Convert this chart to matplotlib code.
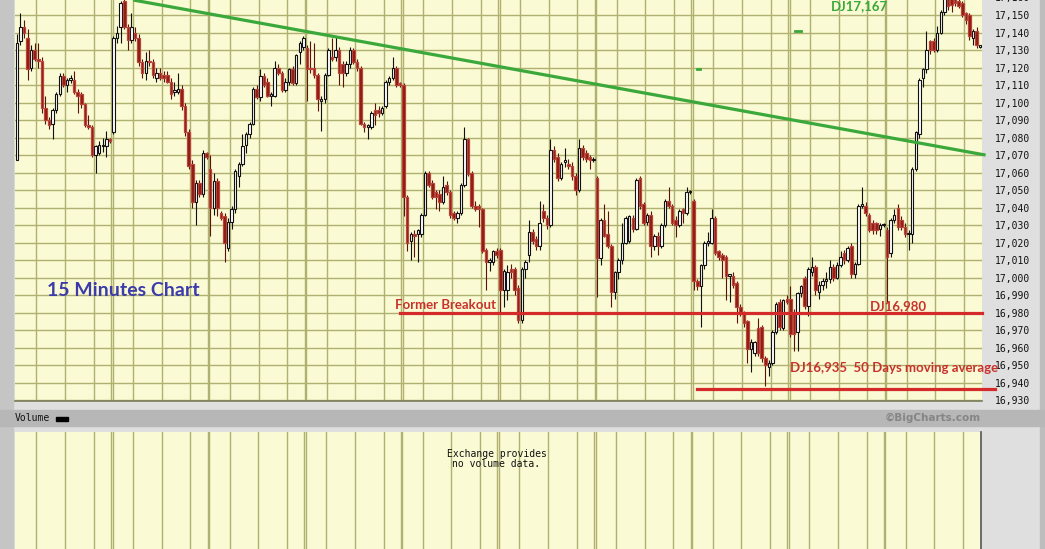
#!/usr/bin/env python3
import matplotlib
matplotlib.use('Agg')
import matplotlib.pyplot as plt
from matplotlib.patches import Rectangle

# 15 minute bars, 27 per trading day, 10 days (one line per day)
opens = [
    17067, 17135, 17143, 17137, 17120, 17130, 17125, 17124, 17097, 17090, 17088, 17096, 17105, 17115, 17110, 17113, 17113, 17106, 17105, 17099, 17087, 17086, 17070, 17071, 17075, 17075, 17079,
    17083, 17137, 17143, 17158, 17143, 17136, 17140, 17137, 17123, 17117, 17124, 17123, 17114, 17117, 17116, 17116, 17112, 17106, 17106, 17108, 17098, 17083, 17065, 17043, 17054, 17048, 17071,
    17062, 17040, 17055, 17037, 17035, 17017, 17032, 17039, 17058, 17065, 17076, 17082, 17088, 17108, 17103, 17115, 17112, 17104, 17104, 17120, 17117, 17107, 17112, 17119, 17111, 17129, 17132,
    17131, 17120, 17120, 17116, 17101, 17102, 17116, 17126, 17126, 17130, 17122, 17117, 17122, 17130, 17123, 17120, 17088, 17086, 17086, 17096, 17096, 17094, 17098, 17112, 17114, 17120, 17111,
    17110, 17046, 17021, 17025, 17025, 17025, 17036, 17060, 17054, 17049, 17048, 17043, 17053, 17049, 17037, 17034, 17037, 17053, 17079, 17060, 17041, 17041, 17039, 17016, 17009, 17009, 17015,
    17016, 16993, 16993, 17005, 17005, 16994, 16976, 17005, 17013, 17026, 17022, 17018, 17038, 17034, 17030, 17073, 17069, 17057, 17066, 17065, 17064, 17058, 17050, 17074, 17071, 17069, 17067,
    17057, 17011, 17033, 17025, 17018, 16992, 17003, 17010, 17020, 17021, 17034, 17028, 17057, 17042, 17032, 17036, 17018, 17024, 17018, 17030, 17044, 17041, 17033, 17030, 17039, 17037, 17049,
    17044, 16998, 16995, 17007, 17020, 17020, 17034, 17015, 17013, 17012, 17001, 17001, 16997, 16983, 16980, 16975, 16959, 16957, 16971, 16972, 16954, 16949, 16951, 16969, 16986, 16971, 16988,
    16988, 16980, 16969, 16991, 17000, 16984, 17003, 17006, 16992, 16996, 16998, 16999, 17006, 17000, 17007, 17014, 17010, 17018, 17002, 17008, 17041, 17041, 17036, 17031, 17031, 17028, 17030,
    17027, 17014, 17033, 17040, 17033, 17029, 17025, 17025, 17062, 17082, 17114, 17119, 17135, 17135, 17130, 17140, 17152, 17163, 17162, 17160, 17158, 17157, 17151, 17150, 17137, 17141, 17132,
]
highs = [
    17139, 17151, 17147, 17142, 17133, 17134, 17134, 17126, 17104, 17092, 17097, 17106, 17117, 17117, 17114, 17116, 17118, 17108, 17106, 17100, 17093, 17087, 17076, 17078, 17080, 17084, 17080,
    17138, 17144, 17158, 17159, 17145, 17151, 17143, 17139, 17125, 17129, 17130, 17125, 17120, 17120, 17118, 17118, 17114, 17112, 17117, 17110, 17100, 17085, 17067, 17056, 17056, 17073, 17072,
    17070, 17060, 17057, 17038, 17037, 17034, 17041, 17062, 17066, 17082, 17083, 17089, 17109, 17110, 17119, 17117, 17114, 17106, 17124, 17122, 17118, 17114, 17120, 17121, 17128, 17135, 17138,
    17133, 17135, 17134, 17117, 17104, 17117, 17131, 17137, 17138, 17132, 17124, 17124, 17132, 17131, 17125, 17121, 17089, 17088, 17095, 17100, 17098, 17098, 17113, 17115, 17126, 17121, 17112,
    17111, 17047, 17026, 17027, 17028, 17037, 17061, 17061, 17056, 17050, 17050, 17058, 17055, 17050, 17038, 17038, 17054, 17086, 17080, 17061, 17044, 17042, 17040, 17017, 17011, 17016, 17017,
    17017, 17005, 17007, 17008, 17006, 16996, 17006, 17010, 17033, 17028, 17024, 17044, 17042, 17036, 17079, 17075, 17071, 17066, 17074, 17068, 17066, 17060, 17079, 17076, 17073, 17070, 17069,
    17058, 17034, 17042, 17038, 17019, 17004, 17011, 17031, 17035, 17036, 17036, 17057, 17058, 17043, 17037, 17038, 17025, 17026, 17031, 17045, 17052, 17042, 17035, 17039, 17040, 17052, 17050,
    17045, 16999, 17008, 17021, 17026, 17039, 17035, 17016, 17014, 17013, 17002, 17003, 16998, 16985, 16981, 16976, 16965, 16964, 16977, 16973, 16955, 16953, 16970, 16986, 16988, 16988, 16990,
    16995, 16982, 16992, 16996, 17001, 17006, 17012, 17007, 16998, 17000, 17003, 17010, 17008, 17009, 17015, 17016, 17018, 17020, 17009, 17042, 17052, 17043, 17037, 17033, 17032, 17031, 17031,
    17029, 17034, 17039, 17042, 17035, 17031, 17027, 17063, 17084, 17114, 17120, 17141, 17136, 17137, 17144, 17153, 17167, 17166, 17165, 17164, 17160, 17158, 17152, 17151, 17142, 17143, 17133,
]
lows = [
    17067, 17133, 17137, 17113, 17118, 17124, 17120, 17094, 17088, 17085, 17079, 17094, 17104, 17109, 17106, 17111, 17105, 17094, 17097, 17086, 17085, 17069, 17060, 17070, 17072, 17069, 17077,
    17082, 17134, 17134, 17142, 17130, 17134, 17135, 17121, 17114, 17113, 17121, 17114, 17112, 17113, 17112, 17111, 17102, 17104, 17105, 17096, 17081, 17062, 17040, 17030, 17046, 17046, 17068,
    17024, 17036, 17035, 17033, 17009, 17015, 17028, 17037, 17052, 17064, 17071, 17080, 17087, 17102, 17101, 17109, 17103, 17098, 17103, 17116, 17106, 17106, 17110, 17110, 17110, 17122, 17130,
    17101, 17117, 17114, 17095, 17084, 17100, 17115, 17124, 17124, 17110, 17109, 17115, 17120, 17122, 17118, 17087, 17083, 17079, 17085, 17087, 17092, 17093, 17097, 17110, 17113, 17109, 17109,
    17035, 17015, 17010, 17012, 17009, 17023, 17035, 17052, 17045, 17039, 17038, 17042, 17047, 17034, 17033, 17031, 17036, 17052, 17058, 17040, 17038, 17029, 17014, 16993, 17004, 17007, 17011,
    16980, 16983, 16987, 17000, 16990, 16974, 16974, 17000, 17009, 17019, 17016, 17016, 17032, 17028, 17029, 17066, 17055, 17056, 17063, 17062, 17056, 17047, 17049, 17067, 17066, 17062, 17066,
    16989, 17007, 17023, 17017, 16983, 16988, 16999, 17008, 17019, 17020, 17026, 17027, 17039, 17030, 17030, 17012, 17016, 17013, 17017, 17029, 17040, 17030, 17023, 17029, 17031, 17036, 17048,
    16993, 16993, 16972, 17005, 17018, 17019, 17013, 17010, 17000, 16987, 16986, 16994, 16974, 16978, 16972, 16951, 16946, 16955, 16955, 16952, 16938, 16944, 16950, 16968, 16970, 16970, 16985,
    16966, 16958, 16958, 16989, 16982, 16978, 17001, 16990, 16988, 16993, 16994, 16997, 16998, 16999, 17006, 17008, 17009, 17000, 17000, 17007, 17040, 17035, 17026, 17025, 17025, 17024, 17029,
    16986, 17012, 17031, 17027, 17027, 17023, 17016, 17020, 17061, 17080, 17109, 17117, 17128, 17129, 17129, 17139, 17150, 17153, 17152, 17155, 17154, 17149, 17145, 17136, 17133, 17131, 17131,
]
closes = [
    17134, 17143, 17140, 17119, 17130, 17125, 17124, 17097, 17090, 17087, 17096, 17105, 17115, 17110, 17113, 17114, 17106, 17104, 17099, 17087, 17086, 17070, 17075, 17076, 17076, 17079, 17078,
    17137, 17140, 17157, 17143, 17136, 17143, 17137, 17123, 17117, 17124, 17123, 17116, 17117, 17114, 17114, 17112, 17105, 17107, 17108, 17098, 17083, 17064, 17043, 17054, 17048, 17071, 17069,
    17040, 17055, 17040, 17034, 17020, 17032, 17039, 17061, 17065, 17075, 17082, 17088, 17108, 17103, 17115, 17110, 17104, 17104, 17120, 17117, 17107, 17112, 17119, 17111, 17127, 17134, 17137,
    17119, 17119, 17116, 17102, 17102, 17116, 17130, 17125, 17130, 17117, 17117, 17122, 17130, 17123, 17120, 17088, 17086, 17087, 17094, 17093, 17094, 17097, 17112, 17114, 17120, 17110, 17110,
    17046, 17020, 17025, 17024, 17027, 17036, 17060, 17053, 17046, 17046, 17043, 17052, 17049, 17036, 17034, 17037, 17053, 17079, 17059, 17041, 17039, 17039, 17015, 17009, 17010, 17015, 17013,
    16993, 17004, 17003, 17003, 16993, 16976, 17005, 17009, 17026, 17021, 17018, 17031, 17034, 17030, 17073, 17068, 17057, 17065, 17067, 17064, 17058, 17050, 17074, 17069, 17068, 17067, 17068,
    17011, 17033, 17024, 17018, 16992, 17003, 17010, 17020, 17034, 17035, 17028, 17056, 17041, 17031, 17036, 17018, 17024, 17018, 17030, 17044, 17041, 17031, 17030, 17038, 17037, 17049, 17049,
    16998, 16995, 17007, 17020, 17021, 17034, 17014, 17012, 17010, 17001, 17002, 16996, 16983, 16980, 16974, 16959, 16963, 16963, 16957, 16954, 16950, 16951, 16969, 16985, 16972, 16987, 16986,
    16968, 16968, 16991, 16995, 16984, 17005, 17006, 16993, 16996, 16998, 16999, 17006, 17000, 17007, 17012, 17010, 17017, 17002, 17008, 17041, 17042, 17037, 17027, 17027, 17027, 17030, 17030,
    17012, 17033, 17036, 17029, 17029, 17025, 17025, 17062, 17083, 17113, 17119, 17130, 17130, 17130, 17140, 17152, 17162, 17155, 17156, 17157, 17155, 17150, 17147, 17138, 17141, 17133, 17132,
]

price_ticks = list(range(16930, 17161, 10))

# drawn-on annotations (bar index, price)
trend_x = [33, 271]
trend_y = [17158.6, 17070]
breakout_level = 16980
breakout_x = [107.5, 270]
ma_level = 16936.3
ma_x = [190.5, 273.5]
green_marks = [(217.8, 219.6, 17141), (190.5, 191.2, 17119)]

BARS_PER_DAY = 27
N_DAYS = 10
W, H = 1045, 549

UP_EDGE = '#111111'
DOWN_FILL = '#8c1a10'
DOWN_EDGE = '#b8443a'
BG = '#fafad4'
GRID = '#b0b070'


def fx(px):
    return px / W


def fy(py):
    return 1 - py / H


fig = plt.figure(figsize=(W / 100, H / 100), dpi=100)
fig.patch.set_facecolor('#dfdfdf')

# gray strips of the page
fig.add_artist(Rectangle((0, 0), fx(13), 1, transform=fig.transFigure, color='#c5c5c5', zorder=0))
fig.add_artist(Rectangle((fx(1040), 0), fx(5), 1, transform=fig.transFigure, color='#bdbdbd', zorder=0))
fig.add_artist(Rectangle((0, fy(426)), 1, (426 - 410) / H, transform=fig.transFigure,
                         color='#b7b7b7', zorder=0))

ax = fig.add_axes([fx(15), fy(401), fx(982 - 15), 401 / H])
ax.set_facecolor(BG)
n = len(closes)
ax.set_xlim(0, BARS_PER_DAY * N_DAYS)
ax.set_ylim(16929.5, 17158.6)


def vgrid(a):
    for d in range(N_DAYS + 1):
        base = d * BARS_PER_DAY
        for off in (6, 14, 22):
            if base + off < BARS_PER_DAY * N_DAYS:
                a.axvline(base + off, color=GRID, lw=1.0, zorder=1)
        if 0 < d < N_DAYS:
            a.axvline(base - 0.15, color=GRID, lw=1.0, zorder=1)
            a.axvline(base + 0.3, color=GRID, lw=1.0, zorder=1)


vgrid(ax)
for p in price_ticks:
    ax.axhline(p, color=GRID, lw=1.0, zorder=1)

# candles
xs = [i + 0.5 for i in range(n)]
up = [c >= o for o, c in zip(opens, closes)]
ax.vlines([x for x, u in zip(xs, up) if u], [l for l, u in zip(lows, up) if u],
          [h for h, u in zip(highs, up) if u], color=UP_EDGE, lw=0.8, zorder=2)
ax.vlines([x for x, u in zip(xs, up) if not u], [l for l, u in zip(lows, up) if not u],
          [h for h, u in zip(highs, up) if not u], color='#5a120c', lw=0.8, zorder=2)
bottoms = [min(o, c) for o, c in zip(opens, closes)]
heights = [max(abs(c - o), 0.7) for o, c in zip(opens, closes)]
ax.bar([x for x, u in zip(xs, up) if u], [h for h, u in zip(heights, up) if u],
       bottom=[b for b, u in zip(bottoms, up) if u], width=0.68,
       facecolor='white', edgecolor=UP_EDGE, lw=0.8, zorder=3)
ax.bar([x for x, u in zip(xs, up) if not u], [h for h, u in zip(heights, up) if not u],
       bottom=[b for b, u in zip(bottoms, up) if not u], width=0.72,
       facecolor=DOWN_FILL, edgecolor=DOWN_EDGE, lw=0.9, zorder=3)

# annotations
ax.plot(trend_x, trend_y, color='#3aa83a', lw=2.3, solid_capstyle='butt', zorder=4, clip_on=False)
ax.plot(breakout_x, [breakout_level] * 2, color='#d42a2a', lw=2.3, zorder=4, clip_on=False)
ax.plot(ma_x, [ma_level] * 2, color='#d42a2a', lw=2.3, zorder=4, clip_on=False)
for x0, x1, y in green_marks:
    ax.plot([x0, x1], [y, y], color='#3aa83a', lw=2.0, zorder=4)

redtxt = dict(color='#c8322c', fontsize=9.5, fontweight='bold', family='Lato', zorder=5)
ax.text(106.2, 16984.5, 'Former Breakout', ha='left', va='center', **redtxt)
ax.text(238.8, 16983.5, 'DJ16,980', ha='left', va='center', **redtxt)
ax.text(216.5, 16948.5, 'DJ16,935  50 Days moving average', ha='left', va='center',
        clip_on=False, **redtxt)
ax.text(227.8, 17155.3, 'DJ17,167', ha='left', va='center', color='#3aa83a', fontsize=9.5,
        fontweight='bold', family='Lato', zorder=5)
ax.text(8.8, 16992.5, '15 Minutes Chart', ha='left', va='center', color='#3b3bab',
        fontsize=14, fontweight='bold', family='Lato', zorder=5)

ax.yaxis.tick_right()
ax.set_yticks([p for p in price_ticks if p <= 17150])
ax.set_yticklabels([f'{p:,}' for p in price_ticks if p <= 17150])
# top label is cut by the figure edge, as in the original
ax.text(1.0135, 17160, '17,160', transform=ax.get_yaxis_transform(), ha='left', va='center',
        fontsize=7, family='DejaVu Sans Mono', color='#111111')
ax.tick_params(axis='y', length=0, pad=9.5, labelsize=7, labelcolor='#111111')
for t in ax.get_yticklabels():
    t.set_family('DejaVu Sans Mono')
ax.set_xticks([])
for s in ('top', 'left', 'right'):
    ax.spines[s].set_visible(False)
ax.spines['bottom'].set_color('#7c7c5c')
ax.spines['bottom'].set_linewidth(1.2)

# band between panels
fig.text(fx(15), fy(418), 'Volume', ha='left', va='center', fontsize=7,
         family='DejaVu Sans Mono', color='#111111')
fig.add_artist(Rectangle((fx(56), fy(420.5)), fx(12), 4 / H, transform=fig.transFigure,
                         color='black'))
fig.text(fx(981), fy(418), '\u00a9BigCharts.com', ha='right', va='center', fontsize=7.5,
         fontweight='bold', color='#858585')

# volume panel
vax = fig.add_axes([fx(15), 0, fx(981 - 15), (549 - 432) / H])
vax.set_facecolor(BG)
vax.set_xlim(0, BARS_PER_DAY * N_DAYS)
vax.set_ylim(0, 1)
vgrid(vax)
vax.set_xticks([])
vax.set_yticks([])
for s in ('top', 'left', 'bottom'):
    vax.spines[s].set_visible(False)
vax.spines['right'].set_color('#555555')
vax.spines['right'].set_linewidth(1.2)
vax.text(0.4985, 0.77, 'Exchange provides\nno volume data.', transform=vax.transAxes,
         ha='center', va='center', fontsize=7, family='DejaVu Sans Mono', color='#111111',
         linespacing=1.0)

fig.savefig('out.png', dpi=100, facecolor=fig.get_facecolor())
